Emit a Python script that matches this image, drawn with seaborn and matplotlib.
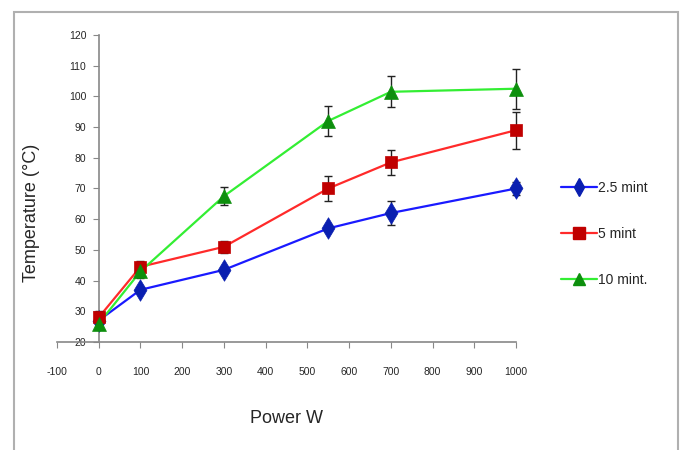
import pandas as pd
import matplotlib.pyplot as plt
import seaborn as sns
from matplotlib.lines import Line2D
from matplotlib.patches import Rectangle

# values
power = [0, 100, 300, 550, 700, 1000]
series_names = ['2.5 mint', '5 mint', '10 mint.']
temp_25 = [27, 37, 43.5, 57, 62, 70]
temp_5 = [28, 44.5, 51, 70, 78.5, 89]
temp_10 = [26, 43, 67.5, 92, 101.5, 102.5]
err_25 = [1, 1, 1, 1, 4, 2]
err_5 = [2, 2, 2, 4, 4, 6]
err_10 = [1, 2, 3, 5, 5, 6.5]

x_ticks = [-100, 0, 100, 200, 300, 400, 500, 600, 700, 800, 900, 1000]
y_ticks = [20, 30, 40, 50, 60, 70, 80, 90, 100, 110, 120]

line_colors = {'2.5 mint': '#1a1aff', '5 mint': '#ff2a2a', '10 mint.': '#33ee33'}
marker_colors = {'2.5 mint': '#0a1fb0', '5 mint': '#c00000', '10 mint.': '#0d8f0d'}
marker_shapes = {'2.5 mint': 'd', '5 mint': 's', '10 mint.': '^'}
marker_sizes = {'2.5 mint': 120, '5 mint': 85, '10 mint.': 100}

df = pd.DataFrame({
    'Power': power * 3,
    'Temp': temp_25 + temp_5 + temp_10,
    'Err': err_25 + err_5 + err_10,
    'Series': [s for s in series_names for _ in power],
})

sns.set_style('white')
plt.rcParams['font.family'] = ['Liberation Sans', 'DejaVu Sans']
plt.rcParams['axes.unicode_minus'] = False

fig = plt.figure(figsize=(6.81, 4.5), dpi=100)
# grey frame around the whole picture
fig.patches.append(Rectangle((14 / 681, -0.05), 664 / 681, 1 - 12 / 450 + 0.05,
                             transform=fig.transFigure, fill=False,
                             edgecolor='#b0b0b0', linewidth=1.5))
ax = fig.add_axes([57 / 681, 1 - 342 / 450, 459 / 681, 307 / 450])

sns.lineplot(data=df, x='Power', y='Temp', hue='Series', palette=line_colors,
             linewidth=1.6, legend=False, ax=ax, zorder=2)

for name in series_names:
    sub = df[df['Series'] == name]
    ax.errorbar(sub['Power'], sub['Temp'], yerr=sub['Err'], fmt='none',
                ecolor='#222222', elinewidth=1, capsize=3, zorder=3)
    sns.scatterplot(x=sub['Power'], y=sub['Temp'], marker=marker_shapes[name],
                    color=marker_colors[name], s=marker_sizes[name],
                    edgecolor=marker_colors[name], linewidth=0.5, ax=ax,
                    legend=False, zorder=4)

# let the marks at x=1000 spill past the axes edge
for artist in ax.lines + ax.collections:
    artist.set_clip_on(False)

ax.set_xlim(-100, 1000)
ax.set_ylim(20, 120)
ax.set_xticks(x_ticks)
ax.set_yticks(y_ticks)
ax.spines['left'].set_position(('data', 0))
ax.spines['right'].set_visible(False)
ax.spines['top'].set_visible(False)
for sp in ['left', 'bottom']:
    ax.spines[sp].set_color('#888888')
    ax.spines[sp].set_linewidth(1.2)
ax.tick_params(axis='x', direction='out', length=4, color='#888888', pad=14, labelsize=7.5)
ax.tick_params(axis='y', direction='out', length=4, color='#888888', pad=5, labelsize=7.5)
ax.tick_params(bottom=True, left=True)

ax.set_xlabel('Power W', fontsize=13)
ax.set_ylabel('Temperature (°C)', fontsize=13)
ax.xaxis.set_label_coords(0.50, -0.22)
ax.yaxis.set_label_coords(-0.037, 0.42)

handles = [Line2D([0], [0], color=line_colors[n], linewidth=1.6,
                  marker=marker_shapes[n], markersize=9,
                  markerfacecolor=marker_colors[n], markeredgecolor=marker_colors[n])
           for n in series_names]
fig.legend(handles, series_names, loc='center left', bbox_to_anchor=(548 / 681, 1 - 234 / 450),
           frameon=False, fontsize=10, labelspacing=2.3, handlelength=2.6,
           handletextpad=0.1)

fig.savefig('out.png', dpi=100)
